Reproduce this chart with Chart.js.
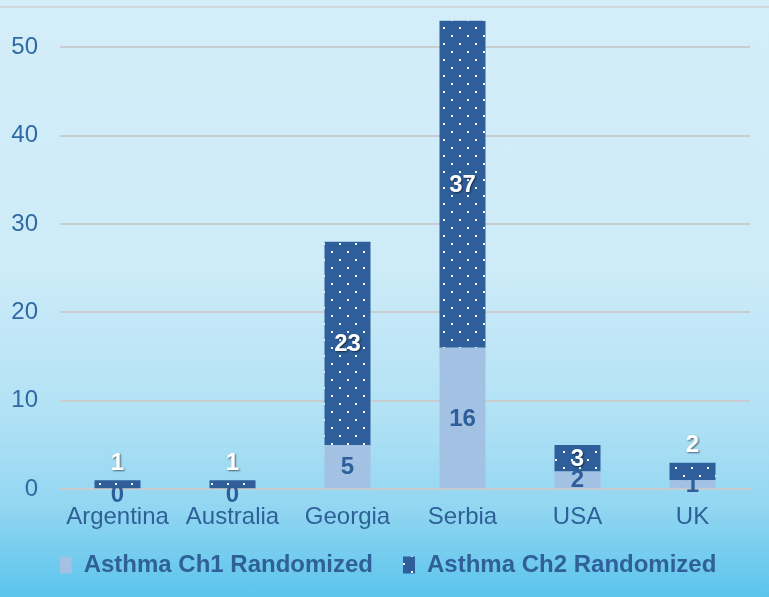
<!DOCTYPE html>
<html>
<head>
<meta charset="utf-8">
<script src="https://cdn.jsdelivr.net/npm/chart.js@4"></script>
<style>
  html, body { margin: 0; padding: 0; }
  body {
    width: 769px; height: 597px; overflow: hidden; position: relative;
    background: linear-gradient(to bottom, #d4eef9 0%, #cdebf8 45%, #b1e1f5 70%, #92d6f1 85%, #5bc4ec 100%);
  }
  .topline { position: absolute; left: 0; top: 6px; width: 769px; height: 2px; background: #d2d6d9; }
  canvas { position: absolute; left: 0; top: 0; }
</style>
</head>
<body>
<div class="topline"></div>
<canvas id="ch_asthma" width="769" height="597"></canvas>
<script>
// categories and series values
const countries = ['Argentina', 'Australia', 'Georgia', 'Serbia', 'USA', 'UK'];
const ch1Randomized = [0, 0, 5, 16, 2, 1];
const ch2Randomized = [1, 1, 23, 37, 3, 2];
const yTicks = [0, 10, 20, 30, 40, 50];

const DARK = '#2e5f9a';
const LIGHT = '#a3c1e3';
const TEXT = '#2f6098';
const FONT = '"Liberation Sans", Arial, sans-serif';

// dotted fill for Ch2
function dotPattern() {
  const c = document.createElement('canvas');
  c.width = 16; c.height = 16;
  const g = c.getContext('2d');
  g.fillStyle = DARK; g.fillRect(0, 0, 16, 16);
  g.fillStyle = '#ffffff';
  g.fillRect(3, 3, 2, 2);
  g.fillRect(11, 11, 2, 2);
  return g.createPattern(c, 'repeat');
}

// value labels: centred in the segment, pushed above when the segment is too thin
const valueLabels = {
  id: 'valueLabels',
  afterLayout(chart) {
    // legend sits a little right of the plot centre in the original
    chart.legend.left += 13;
    chart.legend.right += 13;
    // x axis was squeezed in afterFit; let its labels spill into the legend gap
    chart.scales.x.bottom += 23;
  },
  afterDatasetsDraw(chart) {
    const ctx = chart.ctx;
    ctx.save();
    ctx.font = 'bold 24px ' + FONT;
    ctx.textAlign = 'center';
    ctx.textBaseline = 'middle';
    chart.data.datasets.forEach((ds, di) => {
      const meta = chart.getDatasetMeta(di);
      meta.data.forEach((bar, i) => {
        const v = ds.data[i];
        const h = Math.abs(bar.base - bar.y);
        let y = (bar.y + bar.base) / 2 + 1;
        if (di === 1 && h < 18) y = bar.y - 17;
        if (di === 0 && v === 0) y = bar.base + 6;
        if (di === 1) {
          ctx.shadowColor = 'rgba(0,0,0,0.55)';
          ctx.shadowOffsetX = 1; ctx.shadowOffsetY = 1; ctx.shadowBlur = 2;
          ctx.fillStyle = '#ffffff';
        } else {
          ctx.shadowColor = 'transparent';
          ctx.fillStyle = DARK;
        }
        ctx.fillText(String(v), bar.x, y);
      });
    });
    ctx.restore();
  }
};

const chart = new Chart(document.getElementById('ch_asthma').getContext('2d'), {
  type: 'bar',
  data: {
    labels: countries,
    datasets: [
      { label: 'Asthma Ch1 Randomized', data: ch1Randomized, backgroundColor: LIGHT, borderWidth: 0 },
      { label: 'Asthma Ch2 Randomized', data: ch2Randomized, backgroundColor: dotPattern(), borderWidth: 0 }
    ]
  },
  options: {
    responsive: false,
    animation: false,
    devicePixelRatio: 1,
    layout: { padding: { left: 0, right: 19, top: 3, bottom: 10 } },
    datasets: { bar: { categoryPercentage: 0.8, barPercentage: 0.5 } },
    plugins: {
      legend: {
        position: 'bottom',
        labels: {
          color: TEXT,
          font: { size: 24, weight: 'bold', family: FONT },
          boxWidth: 12, boxHeight: 17, padding: 30
        }
      },
      tooltip: { enabled: false }
    },
    scales: {
      x: {
        stacked: true,
        grid: { display: false, drawTicks: false },
        border: { color: '#c9cdd0', width: 2 },
        ticks: { color: TEXT, padding: 14, font: { size: 24, family: FONT } },
        afterFit: s => { s.height -= 23; }
      },
      y: {
        stacked: true,
        min: 0, max: 55,
        afterBuildTicks: axis => { axis.ticks = yTicks.map(v => ({ value: v })); },
        grid: { color: '#c9cdd0', lineWidth: 2, drawTicks: false },
        border: { display: false },
        ticks: { color: '#2f6aa4', padding: 22, font: { size: 24, family: FONT } },
        afterFit: s => { s.width = 60; s.paddingTop = 0; }
      }
    }
  },
  plugins: [valueLabels]
});
</script>
</body>
</html>
